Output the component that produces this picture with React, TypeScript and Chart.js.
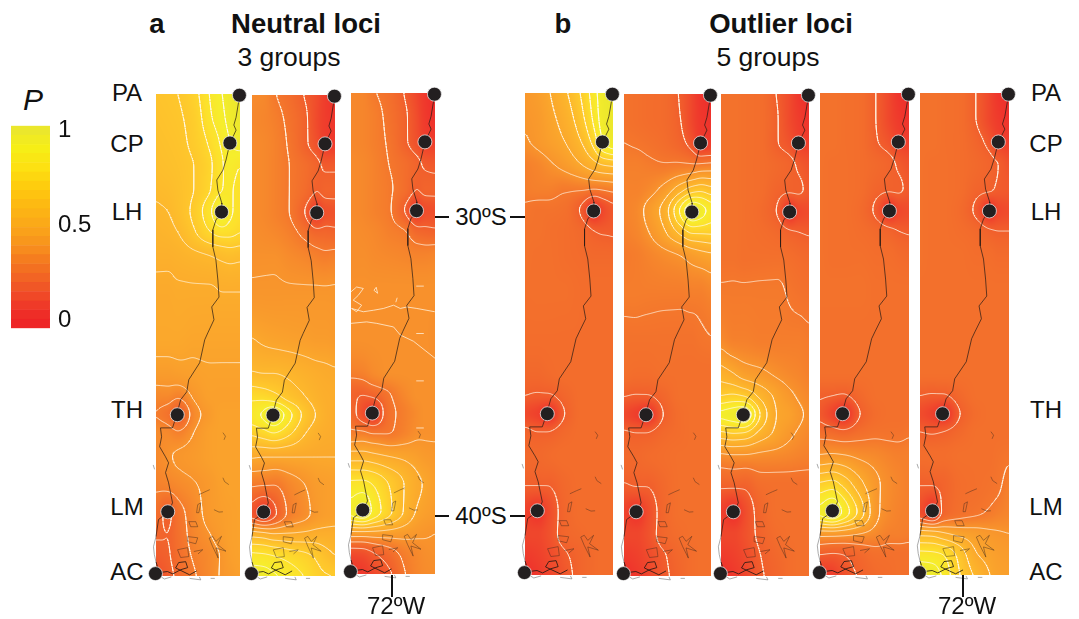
import React, { useEffect, useRef } from "react";
import { Chart, registerables } from "chart.js";

Chart.register(...registerables);

const FONT = '"Liberation Sans", Arial, sans-serif';

// ---------- geography ----------
const lonMin = -73.5;
const lonMax = -70.5;
const latMin = -42.02;
const latMax = -25.88;

const siteNames = ["PA", "CP", "LH", "TH", "LM", "AC"];
const siteLons = [-70.52, -70.86, -71.16, -72.74, -73.08, -73.52];
const siteLats = [-25.92, -27.52, -29.83, -36.62, -39.87, -41.94];

const coastLons = [-70.5, -70.54, -70.64, -70.72, -70.64, -70.86, -71.0, -71.11, -71.33, -71.29, -71.15, -71.15, -71.36, -71.47, -71.47, -71.36, -71.29, -71.25, -71.51, -71.43, -71.65, -71.76, -71.94, -72.33, -72.4, -72.62, -72.76, -72.91, -73.34, -73.3, -73.37, -73.16, -73.05, -73.16, -73.05, -72.91, -73.05, -73.41, -73.5];
const coastLats = [-25.89, -26.09, -26.66, -26.92, -27.09, -27.53, -28.09, -28.43, -28.76, -29.1, -29.53, -29.83, -30.1, -30.43, -31.0, -31.44, -32.11, -32.68, -33.01, -33.44, -33.88, -34.11, -34.88, -35.45, -35.85, -36.12, -36.62, -37.06, -37.06, -37.36, -37.69, -38.03, -38.23, -38.56, -38.9, -39.57, -39.87, -40.13, -40.7];

const southCoast: [number, number][] = [[-73.5, -41.55], [-73.45, -41.7], [-73.34, -41.9], [-73.09, -41.87], [-72.9, -41.95], [-72.62, -41.81], [-72.37, -41.74], [-72.44, -41.54], [-72.69, -41.57], [-72.8, -41.75], [-72.3, -41.98], [-72.05, -41.85]];
const outerCoast: [number, number][] = [[-73.5, -40.7], [-73.59, -41.04], [-73.56, -41.3], [-73.5, -41.55], null as any, [-73.4, -42.0], [-73.2, -42.12], [-72.95, -42.05], null as any, [-72.3, -42.1], [-71.9, -42.15], [-71.95, -42.05], null as any, [-71.55, -42.1], [-71.4, -42.1], null as any, [-73.6, -38.3], [-73.55, -38.45]];

const islands: [number, number][][] = [
  [[-72.73, -41.14], [-72.37, -41.07], [-72.33, -41.37], [-72.62, -41.4], [-72.73, -41.14]],
  [[-72.33, -40.2], [-72.08, -40.2], [-72.01, -40.37], [-72.26, -40.37], [-72.33, -40.2]],
  [[-72.37, -40.7], [-72.01, -40.74], [-72.08, -40.94], [-72.37, -40.87], [-72.37, -40.7]],
  [[-72.01, -39.63], [-71.9, -39.57], [-71.97, -39.9], [-72.05, -39.9], [-72.01, -39.63]],
  [[-71.97, -39.3], [-71.75, -39.2], [-71.58, -39.13]],
  [[-71.43, -39.8], [-71.25, -39.88], [-71.11, -39.87]],
  [[-71.11, -37.22], [-71.02, -37.34], [-71.07, -37.46]],
  [[-71.11, -38.73], [-71.05, -38.86], [-70.9, -38.96]],
  [[-71.6, -40.75], [-71.48, -40.69], [-71.36, -40.86], [-71.16, -40.69], [-71.3, -40.97], [-71.0, -41.19], [-71.36, -41.08], [-71.28, -41.42], [-71.48, -41.03], [-71.6, -40.75]],
  [[-72.15, -41.2], [-71.83, -41.14], [-72.0, -41.28]],
];

// ---------- probability fields, in percent ----------
const gridLons = [-73.5, -73.08, -72.72, -72.15, -71.55, -71.14, -70.86, -70.5];
const gridLats = [-25.89, -26.69, -27.49, -28.29, -29.1, -29.8, -30.5, -31.3, -32.51, -34.01, -35.22, -36.02, -36.62, -37.22, -38.03, -39.03, -39.93, -40.64, -41.34, -42.01];

const neutralA = [
  [66, 67, 68, 73, 85, 92, 96, 100],
  [65, 66, 67, 71, 83, 90, 95, 99],
  [64, 65, 66, 70, 78, 86, 92, 96],
  [63, 64, 65, 68, 75, 83, 88, 84],
  [61, 62, 64, 68, 76, 84, 85, 80],
  [59, 60, 63, 70, 83, 94, 86, 80],
  [57, 58, 60, 67, 76, 80, 79, 76],
  [55, 55, 56, 58, 60, 62, 63, 62],
  [51, 51, 52, 52, 52, 53, 53, 53],
  [50, 50, 50, 49, 49, 49, 49, 49],
  [44, 44, 45, 46, 47, 47, 47, 47],
  [36, 36, 33, 41, 46, 46, 46, 46],
  [32, 28, 20, 36, 44, 47, 47, 47],
  [37, 36, 33, 40, 46, 47, 47, 47],
  [36, 39, 41, 43, 46, 47, 47, 47],
  [33, 34, 36, 39, 43, 46, 47, 47],
  [27, 20, 28, 36, 43, 45, 46, 47],
  [23, 22, 27, 35, 40, 44, 46, 47],
  [19, 21, 26, 33, 37, 41, 45, 47],
  [15, 19, 24, 31, 37, 41, 43, 46],
];
const neutralB = [
  [37, 36, 31, 26, 19, 14, 9, 5],
  [36, 35, 33, 28, 21, 13, 9, 6],
  [37, 36, 34, 29, 21, 15, 9, 8],
  [37, 36, 34, 30, 26, 22, 19, 19],
  [37, 36, 34, 30, 25, 20, 22, 22],
  [37, 36, 34, 30, 19, 8, 15, 16],
  [38, 37, 36, 33, 27, 23, 23, 22],
  [39, 39, 39, 37, 35, 33, 32, 33],
  [41, 41, 41, 41, 41, 41, 41, 41],
  [50, 48, 47, 46, 45, 44, 44, 43],
  [61, 60, 60, 58, 55, 53, 52, 51],
  [78, 77, 74, 66, 60, 56, 54, 53],
  [85, 92, 100, 83, 66, 59, 55, 52],
  [72, 76, 80, 72, 60, 55, 53, 52],
  [51, 50, 50, 50, 50, 50, 50, 50],
  [30, 29, 29, 35, 40, 44, 45, 46],
  [17, 8, 17, 32, 38, 43, 45, 46],
  [57, 55, 52, 52, 53, 54, 54, 54],
  [83, 82, 80, 76, 72, 68, 64, 60],
  [97, 96, 92, 86, 79, 73, 71, 70],
];
const neutralC = [
  [36, 35, 31, 27, 19, 12, 7, 3],
  [36, 35, 33, 28, 21, 14, 8, 4],
  [36, 35, 33, 29, 21, 15, 10, 9],
  [37, 36, 34, 30, 26, 22, 19, 18],
  [37, 36, 34, 31, 26, 20, 22, 22],
  [37, 36, 34, 31, 19, 8, 14, 15],
  [38, 37, 36, 33, 30, 23, 22, 21],
  [38, 38, 37, 36, 35, 34, 34, 35],
  [39, 39, 39, 39, 39, 39, 39, 39],
  [39, 39, 39, 39, 39, 39, 39, 38],
  [33, 34, 37, 39, 39, 39, 39, 39],
  [22, 20, 22, 29, 36, 39, 39, 39],
  [25, 14, 7, 27, 33, 37, 39, 39],
  [31, 30, 27, 29, 34, 38, 39, 39],
  [54, 54, 52, 49, 47, 45, 43, 42],
  [83, 84, 80, 70, 59, 52, 49, 45],
  [93, 100, 88, 73, 58, 49, 46, 44],
  [47, 47, 47, 46, 44, 42, 41, 40],
  [14, 15, 19, 25, 33, 36, 38, 39],
  [5, 7, 12, 18, 30, 35, 37, 38],
];
const outlierA = [
  [42, 45, 49, 58, 72, 86, 96, 100],
  [41, 43, 47, 54, 68, 83, 95, 100],
  [39, 42, 45, 50, 61, 75, 90, 98],
  [33, 35, 38, 43, 50, 56, 60, 62],
  [32, 33, 33, 31, 31, 30, 31, 33],
  [29, 28, 28, 27, 18, 5, 12, 18],
  [28, 28, 27, 26, 24, 20, 19, 19],
  [28, 27, 27, 26, 25, 24, 24, 24],
  [27, 27, 27, 27, 26, 26, 26, 26],
  [26, 26, 26, 26, 26, 26, 26, 26],
  [24, 24, 25, 26, 26, 26, 26, 26],
  [20, 19, 19, 23, 26, 26, 26, 26],
  [13, 10, 5, 20, 26, 26, 26, 26],
  [22, 20, 20, 24, 26, 26, 26, 26],
  [24, 24, 25, 26, 26, 26, 26, 26],
  [20, 20, 20, 24, 26, 26, 26, 26],
  [11, 6, 13, 23, 26, 26, 26, 26],
  [12, 12, 15, 23, 25, 26, 26, 26],
  [8, 10, 13, 19, 23, 25, 26, 26],
  [3, 7, 11, 17, 23, 25, 26, 26],
];
const outlierB = [
  [28, 27, 26, 25, 19, 12, 6, 3],
  [28, 27, 26, 25, 20, 12, 7, 5],
  [30, 29, 28, 26, 22, 16, 8, 8],
  [33, 33, 32, 31, 32, 32, 33, 34],
  [34, 34, 36, 43, 57, 66, 68, 64],
  [34, 36, 42, 53, 82, 100, 95, 85],
  [33, 35, 39, 48, 63, 72, 72, 72],
  [31, 32, 34, 37, 40, 44, 46, 48],
  [32, 32, 32, 32, 32, 33, 33, 35],
  [28, 28, 28, 28, 28, 28, 29, 30],
  [27, 26, 26, 27, 27, 27, 27, 27],
  [20, 19, 19, 23, 27, 27, 27, 27],
  [13, 9, 5, 20, 26, 27, 27, 27],
  [21, 20, 20, 24, 26, 27, 27, 27],
  [24, 24, 25, 26, 27, 27, 27, 27],
  [19, 20, 20, 24, 27, 27, 27, 27],
  [11, 6, 13, 23, 27, 27, 27, 27],
  [12, 12, 15, 23, 26, 27, 27, 27],
  [8, 10, 13, 19, 24, 26, 27, 27],
  [3, 7, 11, 18, 23, 26, 27, 27],
];
const outlierC = [
  [28, 28, 27, 26, 19, 13, 7, 3],
  [28, 28, 27, 26, 20, 13, 9, 5],
  [28, 28, 27, 26, 20, 16, 11, 9],
  [28, 28, 27, 26, 24, 22, 19, 16],
  [28, 28, 27, 26, 22, 21, 21, 18],
  [28, 28, 27, 25, 19, 5, 12, 14],
  [28, 28, 27, 26, 24, 21, 20, 19],
  [28, 28, 27, 27, 27, 26, 25, 24],
  [31, 31, 31, 31, 31, 29, 28, 27],
  [36, 33, 33, 32, 32, 32, 32, 31],
  [55, 50, 45, 42, 38, 36, 35, 33],
  [71, 73, 71, 58, 47, 42, 39, 36],
  [92, 96, 100, 69, 49, 46, 42, 38],
  [68, 71, 70, 57, 47, 42, 39, 36],
  [37, 38, 38, 37, 36, 35, 34, 33],
  [21, 21, 21, 26, 27, 27, 27, 27],
  [10, 5, 13, 23, 27, 27, 27, 27],
  [12, 12, 15, 22, 26, 27, 27, 27],
  [8, 10, 13, 20, 24, 26, 27, 27],
  [3, 7, 11, 19, 23, 26, 27, 27],
];
const outlierD = [
  [28, 28, 27, 26, 19, 12, 6, 3],
  [28, 28, 27, 26, 19, 12, 8, 5],
  [28, 28, 27, 26, 20, 16, 11, 9],
  [28, 27, 27, 26, 24, 22, 19, 16],
  [28, 27, 27, 26, 22, 21, 21, 18],
  [28, 27, 27, 25, 17, 5, 12, 14],
  [28, 27, 27, 26, 24, 22, 20, 19],
  [28, 27, 27, 27, 26, 26, 25, 24],
  [28, 28, 28, 28, 27, 27, 27, 27],
  [27, 27, 27, 27, 27, 27, 27, 27],
  [27, 27, 27, 27, 27, 27, 27, 27],
  [21, 20, 19, 24, 27, 27, 27, 27],
  [18, 11, 5, 20, 26, 27, 27, 27],
  [26, 24, 22, 26, 28, 28, 28, 29],
  [41, 42, 41, 38, 36, 34, 33, 33],
  [73, 76, 69, 54, 41, 37, 35, 33],
  [92, 100, 88, 66, 41, 36, 34, 33],
  [44, 44, 43, 40, 36, 33, 33, 32],
  [20, 19, 20, 24, 27, 27, 27, 27],
  [6, 9, 15, 21, 25, 26, 27, 27],
];
const outlierE = [
  [28, 28, 27, 26, 19, 12, 6, 3],
  [28, 28, 27, 26, 19, 12, 8, 5],
  [28, 28, 27, 26, 22, 17, 11, 9],
  [28, 27, 27, 26, 24, 22, 20, 16],
  [28, 27, 27, 26, 22, 21, 19, 18],
  [28, 27, 27, 25, 17, 5, 12, 14],
  [28, 27, 27, 26, 24, 21, 20, 20],
  [28, 27, 27, 27, 26, 26, 25, 25],
  [27, 27, 27, 27, 27, 27, 27, 27],
  [27, 27, 27, 27, 27, 27, 27, 27],
  [27, 27, 27, 27, 27, 27, 27, 27],
  [20, 19, 19, 24, 27, 27, 27, 27],
  [14, 10, 5, 20, 26, 27, 27, 27],
  [20, 19, 20, 24, 27, 27, 27, 27],
  [26, 26, 26, 27, 27, 27, 28, 29],
  [20, 20, 22, 26, 27, 28, 29, 33],
  [15, 6, 22, 27, 29, 31, 33, 35],
  [57, 56, 52, 47, 44, 42, 41, 40],
  [84, 83, 80, 66, 50, 47, 45, 44],
  [100, 98, 88, 70, 57, 50, 47, 46],
];

const defaultLevels = [20, 30, 40, 50, 60, 70, 80, 90];
const neutralALevels = [22, 32, 40, 47.5, 53, 60, 68, 76, 84, 92];

// speckled contour fragments over the third neutral panel
const speckle: ([number, number] | null)[] = [
  [-73.5, -32.55], [-73.3, -32.39], [-73.06, -32.44], [-73.24, -32.67], [-73.42, -32.83], [-73.12, -33.0], [-73.3, -33.22], [-73.48, -33.11], [-73.06, -33.22], [-72.7, -33.17], [-72.34, -33.11], [-71.98, -33.0], [-71.74, -33.11], [-71.5, -33.06], [-71.15, -33.11], [-70.51, -33.22], null,
  [-73.5, -33.61], [-72.94, -33.56], [-72.58, -33.61], [-71.98, -33.73], [-71.74, -34.0], [-71.27, -34.21], [-70.5, -34.78], null,
  [-72.6, -32.4], [-72.55, -32.6], [-72.68, -32.5], [-72.6, -32.4], null,
  [-71.85, -32.75], [-71.9, -32.9], null,
  [-71.17, -32.36], [-70.9, -32.36], null,
  [-71.17, -33.95], [-70.9, -33.95], null,
  [-71.17, -35.54], [-70.9, -35.54], null,
  [-71.17, -37.12], [-70.9, -37.12],
];

// ---------- colour key ----------
const cmapStops = [0, 0.1, 0.2, 0.3, 0.4, 0.5, 0.6, 0.7, 0.8, 0.9, 1];
const cmapColors = ["#ee2526", "#ef4028", "#f15f25", "#f4771f", "#f8941d", "#fba819", "#fdb813", "#fecb0e", "#fde012", "#f6ee16", "#ebe72c"];
const keyEdges = [-0.044, 0.004, 0.053, 0.101, 0.15, 0.198, 0.247, 0.295, 0.344, 0.392, 0.441, 0.489, 0.538, 0.586, 0.635, 0.683, 0.732, 0.78, 0.829, 0.877, 0.926, 0.974, 1.023];
const keyTicks = [0, 0.5, 1];

const rgbStops = cmapColors.map((h) => [parseInt(h.slice(1, 3), 16), parseInt(h.slice(3, 5), 16), parseInt(h.slice(5, 7), 16)]);
function cmap(p: number): number[] {
  const v = Math.max(0, Math.min(1, p));
  let i = 0;
  while (i < cmapStops.length - 2 && v > cmapStops[i + 1]) i++;
  const t = (v - cmapStops[i]) / (cmapStops[i + 1] - cmapStops[i]);
  return rgbStops[i].map((c, k) => c + (rgbStops[i + 1][k] - c) * t);
}

// ---------- surface raster from the read grid ----------
// shape-preserving cubic between the read grid nodes, so the surface stays smooth and never overshoots them
function pchip(xs: number[], ys: number[], qs: number[]): number[] {
  const n = xs.length;
  const h = xs.slice(0, -1).map((x, i) => xs[i + 1] - x);
  const d = h.map((hi, i) => (ys[i + 1] - ys[i]) / hi);
  const m = new Array(n).fill(0);
  m[0] = d[0];
  m[n - 1] = d[n - 2];
  for (let i = 1; i < n - 1; i++) {
    if (d[i - 1] * d[i] > 0) {
      const w1 = 2 * h[i] + h[i - 1];
      const w2 = h[i] + 2 * h[i - 1];
      m[i] = (w1 + w2) / (w1 / d[i - 1] + w2 / d[i]);
    }
  }
  return qs.map((q) => {
    let i = 0;
    while (i < n - 2 && q > xs[i + 1]) i++;
    const t = Math.max(0, Math.min(1, (q - xs[i]) / h[i]));
    const t2 = t * t, t3 = t2 * t;
    return (2 * t3 - 3 * t2 + 1) * ys[i] + (t3 - 2 * t2 + t) * h[i] * m[i] + (-2 * t3 + 3 * t2) * ys[i + 1] + (t3 - t2) * h[i] * m[i + 1];
  });
}
function blur(src: Float32Array, w: number, h: number, r: number) {
  const tmp = new Float32Array(src.length);
  for (let y = 0; y < h; y++)
    for (let x = 0; x < w; x++) {
      let s = 0, n = 0;
      for (let k = -r; k <= r; k++) {
        const xx = x + k;
        if (xx >= 0 && xx < w) { s += src[y * w + xx]; n++; }
      }
      tmp[y * w + x] = s / n;
    }
  for (let y = 0; y < h; y++)
    for (let x = 0; x < w; x++) {
      let s = 0, n = 0;
      for (let k = -r; k <= r; k++) {
        const yy = y + k;
        if (yy >= 0 && yy < h) { s += tmp[yy * w + x]; n++; }
      }
      src[y * w + x] = s / n;
    }
}
function buildSurface(rows: number[][], w: number, h: number) {
  const f = new Float32Array(w * h);
  const qLon = Array.from({ length: w }, (_, x) => lonMin + ((lonMax - lonMin) * x) / (w - 1));
  const southward = gridLats.map((l) => -l);
  const qLat = Array.from({ length: h }, (_, y) => -(latMax + ((latMin - latMax) * y) / (h - 1)));
  const across = rows.map((r) => pchip(gridLons, r, qLon));
  for (let x = 0; x < w; x++) {
    const col = pchip(southward, across.map((r) => r[x]), qLat);
    for (let y = 0; y < h; y++) f[y * w + x] = col[y];
  }
  blur(f, w, h, 2);
  return f;
}
function surfaceImage(f: Float32Array, w: number, h: number) {
  const cv = document.createElement("canvas");
  cv.width = w;
  cv.height = h;
  const g = cv.getContext("2d")!;
  const img = g.createImageData(w, h);
  for (let i = 0; i < w * h; i++) {
    const c = cmap(f[i] / 100);
    img.data[i * 4] = c[0];
    img.data[i * 4 + 1] = c[1];
    img.data[i * 4 + 2] = Math.max(c[2], 44);
    img.data[i * 4 + 3] = 255;
  }
  g.putImageData(img, 0, 0);
  return cv;
}
function contourPoints(f: Float32Array, w: number, h: number, levels: number[]) {
  const pts: { x: number; y: number }[] = [];
  const toLon = (x: number) => lonMin + ((lonMax - lonMin) * x) / (w - 1);
  const toLat = (y: number) => latMax + ((latMin - latMax) * y) / (h - 1);
  const gap = () => pts.push({ x: NaN, y: NaN });
  for (const L of levels) {
    for (let y = 0; y < h - 1; y++)
      for (let x = 0; x < w - 1; x++) {
        const a = f[y * w + x], b = f[y * w + x + 1], c = f[(y + 1) * w + x + 1], d = f[(y + 1) * w + x];
        const e: [number, number][] = [];
        if (a < L !== b < L) e.push([x + (L - a) / (b - a), y]);
        if (b < L !== c < L) e.push([x + 1, y + (L - b) / (c - b)]);
        if (d < L !== c < L) e.push([x + (L - d) / (c - d), y + 1]);
        if (a < L !== d < L) e.push([x, y + (L - a) / (d - a)]);
        for (let k = 0; k + 1 < e.length; k += 2) {
          pts.push({ x: toLon(e[k][0]), y: toLat(e[k][1]) });
          pts.push({ x: toLon(e[k + 1][0]), y: toLat(e[k + 1][1]) });
          gap();
        }
      }
  }
  return pts;
}
const toPts = (list: ([number, number] | null)[]) =>
  list.map((p) => (p ? { x: p[0], y: p[1] } : { x: NaN, y: NaN }));

// ---------- panels ----------
const PAD = 14;
type PanelSpec = { left: number; right: number; top: number; bottom: number; rows: number[][]; levels: number[]; extra?: ([number, number] | null)[] };
const panels: PanelSpec[] = [
  { left: 155.5, right: 239, top: 94, bottom: 575.5, rows: neutralA, levels: neutralALevels },
  { left: 252.3, right: 335.7, top: 94.5, bottom: 575.7, rows: neutralB, levels: defaultLevels },
  { left: 351, right: 434.5, top: 93.3, bottom: 574.5, rows: neutralC, levels: defaultLevels, extra: speckle },
  { left: 525, right: 613.3, top: 92.7, bottom: 575, rows: outlierA, levels: defaultLevels },
  { left: 623.7, right: 710.7, top: 93.7, bottom: 575.7, rows: outlierB, levels: defaultLevels },
  { left: 721, right: 809.3, top: 93.7, bottom: 575.7, rows: outlierC, levels: defaultLevels },
  { left: 820.3, right: 909.3, top: 93.3, bottom: 575.3, rows: outlierD, levels: defaultLevels },
  { left: 919.7, right: 1008.3, top: 93, bottom: 575.3, rows: outlierE, levels: defaultLevels },
];

function Panel({ spec }: { spec: PanelSpec }) {
  const ref = useRef<HTMLCanvasElement>(null);
  const cw = Math.round(spec.right - spec.left) + PAD * 2;
  const ch = Math.round(spec.bottom - spec.top) + PAD * 2;
  useEffect(() => {
    const w = Math.round(spec.right - spec.left);
    const h = Math.round(spec.bottom - spec.top);
    const field = buildSurface(spec.rows, w, h);
    const image = surfaceImage(field, w, h);
    const surfacePlugin = {
      id: "surface",
      beforeDatasetsDraw(chart: any) {
        const { x, y } = chart.scales;
        const ctx = chart.ctx;
        const x0 = x.getPixelForValue(lonMin);
        const x1 = x.getPixelForValue(lonMax);
        const y0 = y.getPixelForValue(latMax);
        const y1 = y.getPixelForValue(latMin);
        ctx.save();
        ctx.imageSmoothingEnabled = true;
        ctx.drawImage(image, x0, y0, x1 - x0, y1 - y0);
        ctx.restore();
      },
    };
    const line = (data: any[], color: string, width: number, order: number, clip: any = false) => ({
      data,
      showLine: true,
      borderColor: color,
      borderWidth: width,
      pointRadius: 0,
      spanGaps: false,
      tension: 0,
      order,
      clip,
    });
    const datasets: any[] = [
      {
        label: "sites",
        data: siteLons.map((x, i) => ({ x, y: siteLats[i] })),
        pointRadius: 7,
        pointBackgroundColor: "#231f20",
        pointBorderColor: "rgba(255,255,255,0.85)",
        pointBorderWidth: 0.8,
        showLine: false,
        order: 0,
        clip: false,
      },
      line(coastLons.map((x, i) => ({ x, y: coastLats[i] })), "rgba(40,28,22,0.9)", 0.8, 1),
      line(toPts(southCoast), "rgba(30,22,18,0.9)", 0.9, 1),
      line(toPts(outerCoast), "rgba(120,120,120,0.9)", 0.7, 1),
      ...islands.map((s) => line(toPts(s), "rgba(60,40,30,0.75)", 0.6, 1)),
      line(contourPoints(field, w, h, spec.levels), "rgba(255,250,235,0.8)", 0.9, 2),
    ];
    if (spec.extra) datasets.push(line(toPts(spec.extra), "rgba(255,250,235,0.8)", 0.9, 2));
    const chart = new Chart(ref.current!, {
      type: "scatter",
      data: { datasets },
      options: {
        animation: false,
        responsive: false,
        events: [],
        layout: { padding: PAD, autoPadding: false },
        plugins: { legend: { display: false }, tooltip: { enabled: false } },
        scales: {
          x: { type: "linear", display: false, min: lonMin, max: lonMax },
          y: { type: "linear", display: false, min: latMin, max: latMax },
        },
      } as any,
      plugins: [surfacePlugin],
    } as any);
    return () => chart.destroy();
  }, []);
  return (
    <canvas
      ref={ref}
      width={cw}
      height={ch}
      style={{ position: "absolute", left: spec.left - PAD, top: spec.top - PAD, width: cw, height: ch }}
    />
  );
}

function ColorKey() {
  const ref = useRef<HTMLCanvasElement>(null);
  useEffect(() => {
    const bands = keyEdges.slice(0, -1).map((lo, i) => {
      const hi = keyEdges[i + 1];
      const c = cmap((lo + hi) / 2).map(Math.round);
      return { data: [[lo, hi]], backgroundColor: `rgb(${c[0]},${c[1]},${c[2]})`, borderColor: `rgb(${c[0]},${c[1]},${c[2]})`, borderWidth: 0.4, borderSkipped: false };
    });
    const chart = new Chart(ref.current!, {
      type: "bar",
      data: { labels: ["P"], datasets: bands as any },
      options: {
        animation: false,
        responsive: false,
        events: [],
        layout: { padding: { top: 10.7, bottom: 11.7, left: 0, right: 0 }, autoPadding: false },
        plugins: { legend: { display: false }, tooltip: { enabled: false } },
        datasets: { bar: { barPercentage: 1, categoryPercentage: 1, grouped: false } },
        scales: {
          x: { display: false },
          y: {
            position: "right",
            min: keyEdges[0],
            max: keyEdges[keyEdges.length - 1],
            grid: { display: false, drawTicks: false },
            border: { display: false },
            afterBuildTicks: (s: any) => { s.ticks = keyTicks.map((value) => ({ value })); },
            afterFit: (s: any) => {
              s.width = 51;
              s.paddingTop = 0;
              s.paddingBottom = 0;
            },
            ticks: {
              autoSkip: false,
              padding: 8,
              color: "#111",
              font: { family: FONT, size: 24 },
              callback: (v: any) => String(v),
            },
          },
        },
      } as any,
    } as any);
    return () => chart.destroy();
  }, []);
  return <canvas ref={ref} width={90} height={225} style={{ position: "absolute", left: 11, top: 115, width: 90, height: 225 }} />;
}

function Label({ x, y, text, size = 24, bold = false, italic = false }: { x: number; y: number; text: string; size?: number; bold?: boolean; italic?: boolean }) {
  return (
    <div
      style={{
        position: "absolute",
        left: x,
        top: y,
        transform: "translate(-50%,-50%)",
        whiteSpace: "nowrap",
        fontFamily: FONT,
        fontSize: size,
        lineHeight: 1,
        fontWeight: bold ? 700 : 400,
        fontStyle: italic ? "italic" : "normal",
        color: "#111",
      }}
    >
      {text}
    </div>
  );
}
function Tick({ x, y, w, h }: { x: number; y: number; w: number; h: number }) {
  return <div style={{ position: "absolute", left: x, top: y, width: w, height: h, background: "#111" }} />;
}

const siteLabelY = [93, 144, 212, 410, 507, 572];

export default function App() {
  return (
    <div style={{ position: "absolute", left: 0, top: 0, width: 1079, height: 619, background: "#fff", overflow: "hidden" }}>
      <Label x={157} y={24} text="a" size={27.5} bold />
      <Label x={306} y={24} text="Neutral loci" size={27.5} bold />
      <Label x={289} y={57} text="3 groups" size={26.5} />
      <Label x={563} y={24} text="b" size={27.5} bold />
      <Label x={781} y={24} text="Outlier loci" size={27.5} bold />
      <Label x={768} y={57} text="5 groups" size={26.5} />
      <Label x={33} y={100} text="P" size={30} italic />
      {siteNames.map((s, i) => (
        <Label key={"l" + s} x={127} y={siteLabelY[i]} text={s} />
      ))}
      {siteNames.map((s, i) => (
        <Label key={"r" + s} x={1046} y={siteLabelY[i]} text={s} />
      ))}
      <ColorKey />
      {panels.map((p, i) => (
        <Panel key={i} spec={p} />
      ))}
      <Label x={481} y={217} text="30ºS" />
      <Label x={481} y={516} text="40ºS" />
      <Tick x={435} y={216} w={14} h={2} />
      <Tick x={510} y={216} w={15} h={2} />
      <Tick x={435} y={515} w={14} h={2} />
      <Tick x={510} y={515} w={15} h={2} />
      <Tick x={391} y={575} w={2} h={22} />
      <Tick x={962} y={575} w={2} h={22} />
      <Label x={396} y={606} text="72ºW" />
      <Label x={967} y={606} text="72ºW" />
    </div>
  );
}
